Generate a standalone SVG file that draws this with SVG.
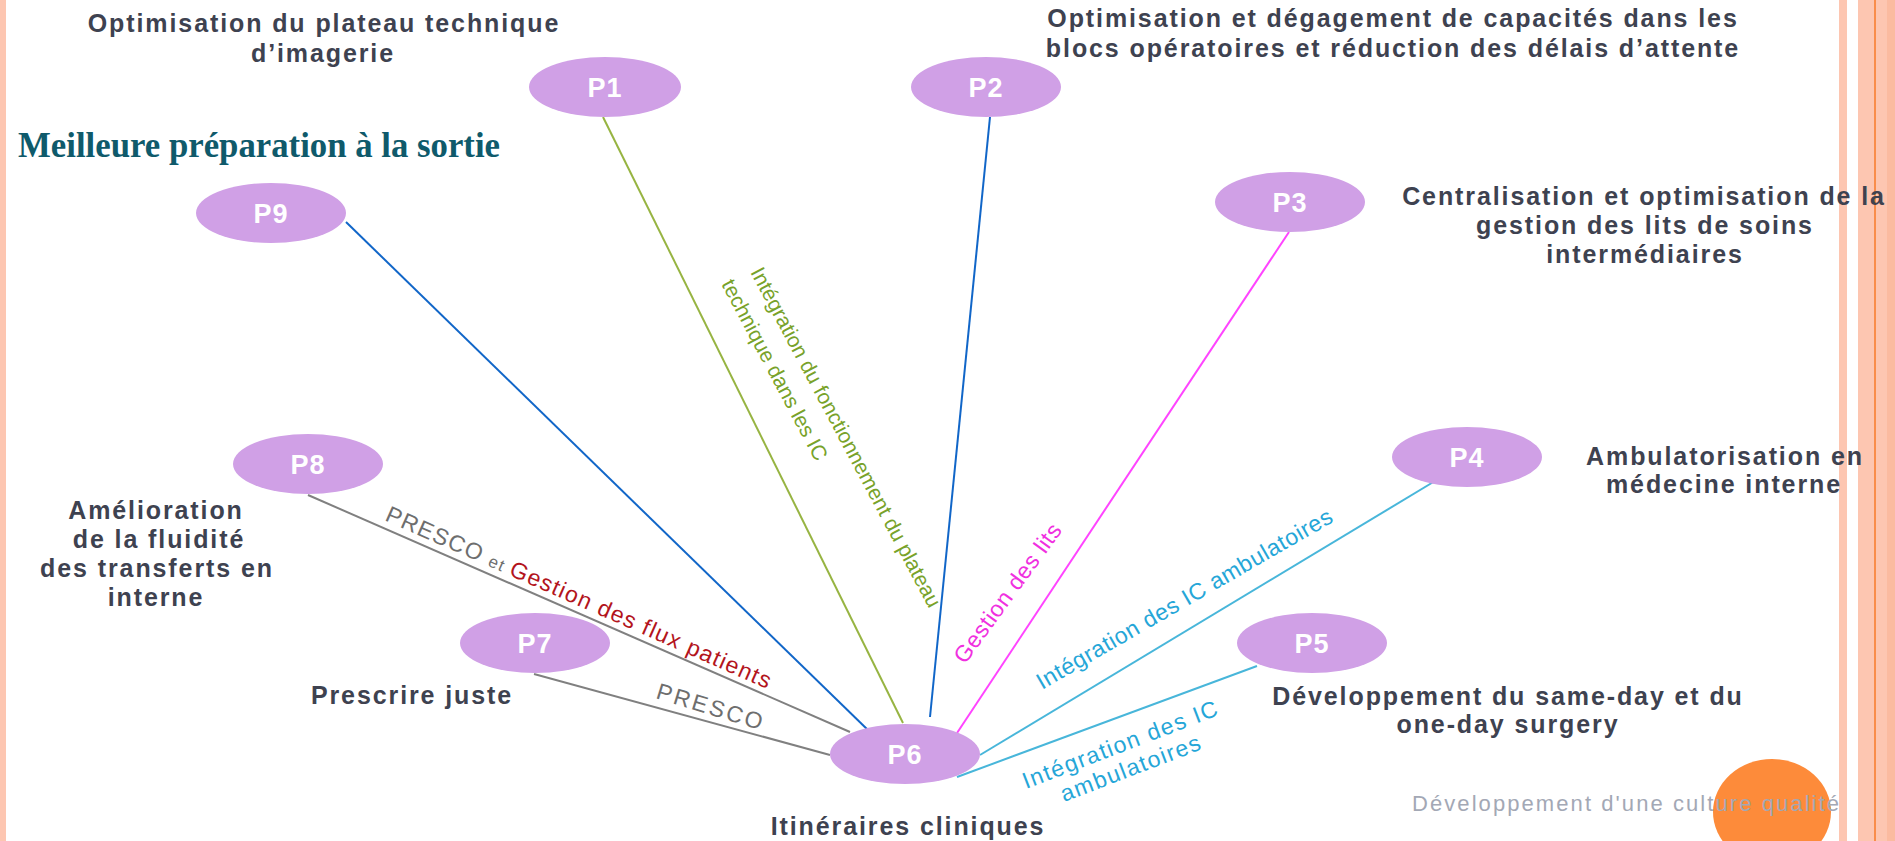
<svg xmlns="http://www.w3.org/2000/svg" width="1895" height="841" viewBox="0 0 1895 841">
<style>
.node ellipse{fill:#D0A0E6;}
.node text{font-family:"Liberation Sans",Arial,sans-serif;font-weight:bold;font-size:27px;fill:#FFFFFF;text-anchor:middle;letter-spacing:1px;}
.lbl{font-family:"Liberation Sans",Arial,sans-serif;font-weight:bold;font-size:25px;fill:#3E4250;text-anchor:middle;letter-spacing:1.9px;}
.el{font-family:"Liberation Sans",Arial,sans-serif;font-size:23px;letter-spacing:0.6px;}
.conn line{stroke-width:2;fill:none;}
</style>
<rect width="1895" height="841" fill="#FFFFFF"/>
<g id="border">
<rect x="0" y="0" width="6" height="841" fill="#FDC6B1"/>
<rect x="1839" y="0" width="8" height="841" fill="#FDC6B1"/>
<rect x="1858" y="0" width="37" height="841" fill="#FDC6B1"/>
<rect x="1887" y="0" width="8" height="841" fill="#FBBBA0"/>
<rect x="1874" y="0" width="2" height="841" fill="#F98D4B"/>
</g>
<ellipse id="deco" cx="1772" cy="812" rx="59" ry="53" fill="#FD8B3A"/>
<g id="connectors" class="conn">
<line x1="346" y1="222" x2="870" y2="732" stroke="#1166C8"/>
<line x1="603" y1="117" x2="903" y2="723" stroke="#97B442"/>
<line x1="990" y1="117" x2="930" y2="717" stroke="#1166C8"/>
<line x1="1289" y1="232" x2="957" y2="733" stroke="#FF44FF"/>
<line x1="1440" y1="478" x2="980" y2="755" stroke="#48B6DA"/>
<line x1="1257" y1="666" x2="957" y2="777" stroke="#48B6DA"/>
<line x1="308" y1="495" x2="850" y2="732" stroke="#808080"/>
<line x1="534" y1="674" x2="830" y2="755" stroke="#808080"/>
</g>
<g id="edge-labels">
<text class="el" transform="translate(750,272) rotate(62)" style="font-size:21px;letter-spacing:0px" fill="#78A22A">Intégration du fonctionnement du plateau</text>
<text class="el" transform="translate(721,284) rotate(62)" style="font-size:21px;letter-spacing:0px" fill="#78A22A">technique dans les IC</text>
<text class="el" transform="translate(965,665) rotate(-54)" fill="#F030E0">Gestion des lits</text>
<text class="el" transform="translate(1042,690) rotate(-30)" fill="#25A6D8">Intégration des IC ambulatoires</text>
<text class="el" transform="translate(1026,789) rotate(-21)" fill="#25A6D8" style="letter-spacing:1.5px">Intégration des IC</text>
<text class="el" transform="translate(1064,802) rotate(-21)" fill="#25A6D8" style="letter-spacing:1.5px">ambulatoires</text>
<text class="el" transform="translate(384,520) rotate(23.8)" fill="#6E6E6E" style="letter-spacing:1.3px">PRESCO <tspan style="font-size:17px">et </tspan><tspan fill="#B3141C">Gestion des flux patients</tspan></text>
<text class="el" transform="translate(655,698) rotate(17)" fill="#6E6E6E" style="letter-spacing:2.5px">PRESCO</text>
</g>
<g id="P1" class="node"><ellipse cx="605" cy="87" rx="76" ry="30"/><text x="605" y="97">P1</text></g>
<g id="P2" class="node"><ellipse cx="986" cy="87" rx="75" ry="30"/><text x="986" y="97">P2</text></g>
<g id="P3" class="node"><ellipse cx="1290" cy="202" rx="75" ry="30"/><text x="1290" y="212">P3</text></g>
<g id="P4" class="node"><ellipse cx="1467" cy="457" rx="75" ry="30"/><text x="1467" y="467">P4</text></g>
<g id="P5" class="node"><ellipse cx="1312" cy="643" rx="75" ry="30"/><text x="1312" y="653">P5</text></g>
<g id="P6" class="node"><ellipse cx="905" cy="754" rx="75" ry="30"/><text x="905" y="764">P6</text></g>
<g id="P7" class="node"><ellipse cx="535" cy="643" rx="75" ry="30"/><text x="535" y="653">P7</text></g>
<g id="P8" class="node"><ellipse cx="308" cy="464" rx="75" ry="30"/><text x="308" y="474">P8</text></g>
<g id="P9" class="node"><ellipse cx="271" cy="213" rx="75" ry="30"/><text x="271" y="223">P9</text></g>
<g id="labels">
<text class="lbl" x="324" y="32">Optimisation  du plateau technique</text>
<text class="lbl" x="323" y="62">d’imagerie</text>
<text class="lbl" x="1393" y="27">Optimisation et dégagement de capacités dans les</text>
<text class="lbl" x="1393" y="57">blocs opératoires et réduction des délais d’attente</text>
<text class="lbl" x="1644" y="205">Centralisation et optimisation  de la</text>
<text class="lbl" x="1645" y="234">gestion des lits de soins</text>
<text class="lbl" x="1645" y="263">intermédiaires</text>
<text class="lbl" x="1725" y="465">Ambulatorisation  en</text>
<text class="lbl" x="1724" y="493">médecine interne</text>
<text class="lbl" x="1508" y="705">Développement du same-day et du</text>
<text class="lbl" x="1508" y="733">one-day surgery</text>
<text class="lbl" x="908" y="835">Itinéraires cliniques</text>
<text class="lbl" x="412" y="704">Prescrire juste</text>
<text class="lbl" x="156" y="519">Amélioration</text>
<text class="lbl" x="159" y="548">de la fluidité</text>
<text class="lbl" x="157" y="577">des transferts  en</text>
<text class="lbl" x="156" y="606">interne</text>
<text x="18" y="157" font-family="'Liberation Serif','Times New Roman',serif" font-size="35" font-weight="bold" fill="#0F5A6B" textLength="482" lengthAdjust="spacingAndGlyphs">Meilleure préparation à la sortie</text>
<text x="1412" y="811" font-family="'Liberation Sans',Arial,sans-serif" font-size="22" fill="#A3A8B5" textLength="427" lengthAdjust="spacing">Développement d'une culture qualité</text>
</g>
</svg>
